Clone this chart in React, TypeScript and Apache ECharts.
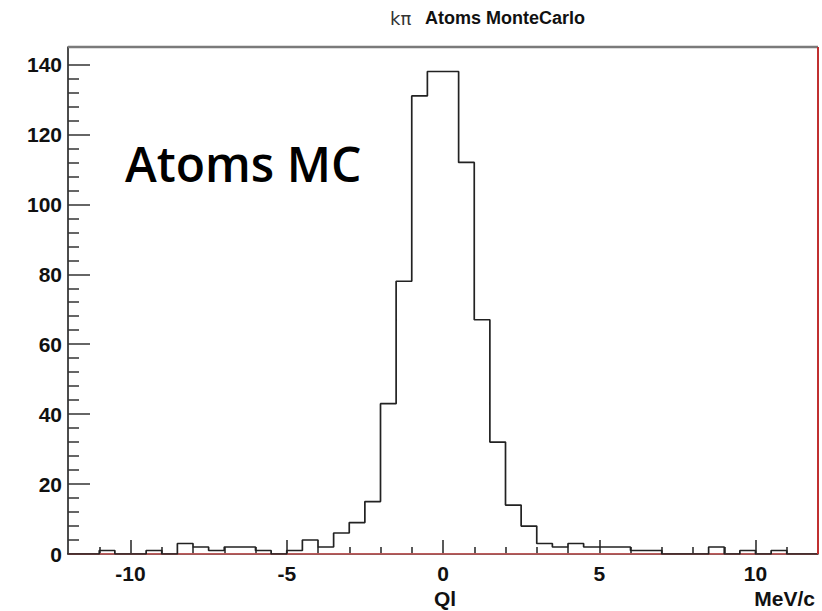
import React, { useEffect, useRef } from 'react';
import * as echarts from 'echarts';

// Histogram: 48 bins of width 0.5 from -12 to 12
const binStart = -12;
const binWidth = 0.5;
const counts = [
  0, 0, 1, 0, 0, 1, 0, 3, 2, 1,
  2, 2, 1, 0, 1, 4, 2, 6, 9, 15,
  43, 78, 131, 138, 138, 112, 67, 32, 14, 8,
  3, 2, 3, 2, 2, 2, 1, 1, 0, 0,
  0, 2, 0, 1, 0, 1, 0, 0,
];

const xMajorTicks = [-10, -5, 0, 5, 10];
const xMinorTicks = [-11, -9, -8, -7, -6, -4, -3, -2, -1, 1, 2, 3, 4, 6, 7, 8, 9, 11];
const yMajorTicks = [0, 20, 40, 60, 80, 100, 120, 140];
const yMinorTicks = [4, 8, 12, 16, 24, 28, 32, 36, 44, 48, 52, 56, 64, 68, 72, 76, 84, 88, 92, 96, 104, 108, 112, 116, 124, 128, 132, 136];

const xMin = -12;
const xMax = 12;
const yMin = 0;
const yMax = 145;

const titlePrefix = 'kπ';
const titleText = 'Atoms MonteCarlo';
const annotation = 'Atoms MC';
const xName = 'Ql';
const xUnit = 'MeV/c';

const W = 822;
const H = 611;
const GRID = { left: 68, right: 4, top: 47, bottom: 57 };

export default function App() {
  const ref = useRef<HTMLDivElement>(null);

  useEffect(() => {
    if (!ref.current) return;
    const chart = echarts.init(ref.current, undefined, { renderer: 'svg' });

    const histData: number[][] = counts.map((c, i) => [binStart + i * binWidth, c]);
    histData.push([binStart + counts.length * binWidth, counts[counts.length - 1]]);

    const labelFont = {
      fontFamily: 'Liberation Sans, Arial, sans-serif',
      fontWeight: 'bold' as const,
      fontSize: 21,
      color: '#111',
    };

    const plotRight = W - GRID.right;
    const plotBottom = H - GRID.bottom;

    chart.setOption({
      animation: false,
      backgroundColor: '#ffffff',
      grid: { ...GRID, containLabel: false },
      xAxis: [
        {
          type: 'value',
          min: xMin,
          max: xMax,
          position: 'bottom',
          axisLine: { show: true, onZero: false, lineStyle: { color: '#111', width: 1.5 } },
          axisTick: { show: true, inside: true, length: 14, customValues: xMajorTicks, lineStyle: { color: '#222', width: 1.5 } },
          axisLabel: { ...labelFont, margin: 9, customValues: xMajorTicks },
          splitLine: { show: false },
        },
        {
          type: 'value',
          min: xMin,
          max: xMax,
          position: 'bottom',
          axisLine: { show: false, onZero: false },
          axisTick: { show: true, inside: true, length: 7, customValues: xMinorTicks, lineStyle: { color: '#222', width: 1.5 } },
          axisLabel: { show: false },
          splitLine: { show: false },
        },
      ],
      yAxis: [
        {
          type: 'value',
          min: yMin,
          max: yMax,
          position: 'left',
          axisLine: { show: true, onZero: false, lineStyle: { color: '#111', width: 1.5 } },
          axisTick: { show: true, inside: true, length: 22, customValues: yMajorTicks, lineStyle: { color: '#333', width: 1.5 } },
          axisLabel: { ...labelFont, margin: 6, customValues: yMajorTicks },
          splitLine: { show: false },
        },
        {
          type: 'value',
          min: yMin,
          max: yMax,
          position: 'left',
          axisLine: { show: false, onZero: false },
          axisTick: { show: true, inside: true, length: 11, customValues: yMinorTicks, lineStyle: { color: '#333', width: 1.5 } },
          axisLabel: { show: false },
          splitLine: { show: false },
        },
      ],
      series: [
        {
          type: 'line',
          data: [[xMin, 0], [xMax, 0]],
          xAxisIndex: 0,
          yAxisIndex: 0,
          symbol: 'none',
          silent: true,
          lineStyle: { color: '#e06060', width: 1.5 },
          z: 1,
        },
        {
          type: 'line',
          data: histData,
          step: 'end',
          xAxisIndex: 0,
          yAxisIndex: 0,
          symbol: 'none',
          lineStyle: { color: '#222', width: 1.7 },
          z: 2,
        },
      ],
      graphic: [
        {
          type: 'line',
          shape: { x1: GRID.left, y1: GRID.top, x2: plotRight, y2: GRID.top },
          style: { stroke: '#7a7a7a', lineWidth: 2.5 },
          z: 10,
        },
        {
          type: 'line',
          shape: { x1: plotRight, y1: GRID.top, x2: plotRight, y2: plotBottom },
          style: { stroke: '#c03030', lineWidth: 2 },
          z: 10,
        },
        {
          type: 'text',
          x: 390,
          y: 18,
          style: {
            text: titlePrefix,
            fontFamily: 'DejaVu Sans, sans-serif',
            fontSize: 18,
            fill: '#333',
            verticalAlign: 'middle',
            align: 'left',
          },
        },
        {
          type: 'text',
          x: 585,
          y: 18,
          style: {
            text: titleText,
            fontFamily: 'Liberation Sans, Arial, sans-serif',
            fontWeight: 'bold',
            fontSize: 18,
            fill: '#111',
            verticalAlign: 'middle',
            align: 'right',
          },
        },
        {
          type: 'text',
          x: 125,
          y: 163,
          style: {
            text: annotation,
            fontFamily: 'Open Sans, sans-serif',
            fontWeight: 600,
            fontSize: 48,
            fill: '#000',
            verticalAlign: 'middle',
            align: 'left',
          },
        },
        {
          type: 'text',
          x: 445,
          y: 598,
          style: {
            text: xName,
            ...labelFont,
            fill: '#111',
            align: 'center',
            verticalAlign: 'middle',
          },
        },
        {
          type: 'text',
          x: 815,
          y: 598,
          style: {
            text: xUnit,
            ...labelFont,
            fill: '#111',
            align: 'right',
            verticalAlign: 'middle',
          },
        },
      ],
    });

    return () => chart.dispose();
  }, []);

  return (
    <div
      ref={ref}
      style={{ position: 'fixed', left: 0, top: 0, width: W, height: H, background: '#fff' }}
    />
  );
}
